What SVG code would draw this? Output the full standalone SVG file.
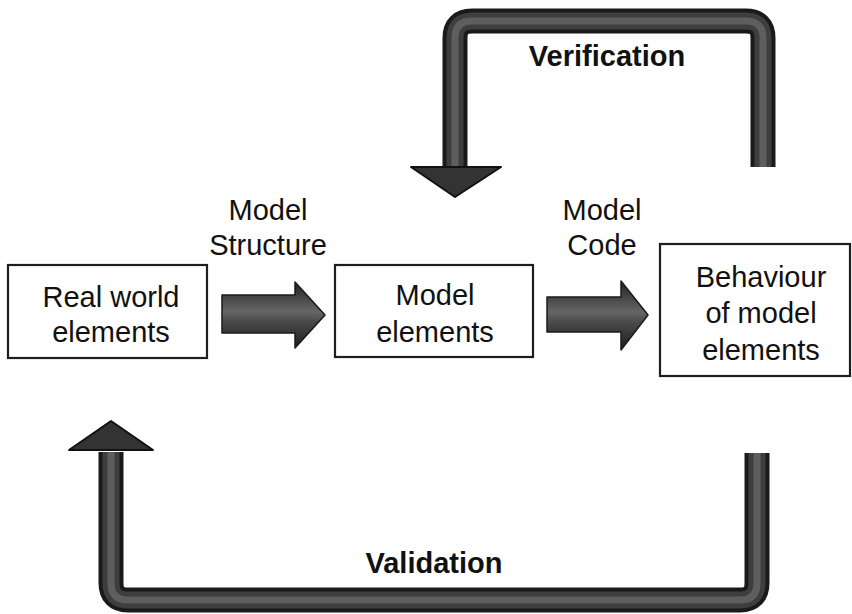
<svg xmlns="http://www.w3.org/2000/svg" width="852" height="614" viewBox="0 0 852 614">
<style>
.box{fill:#fff;stroke:#1e1e1e;stroke-width:2.2}
.t{font-family:"Liberation Sans",Arial,sans-serif;font-size:29px;fill:#111;text-anchor:middle}
.b{font-weight:bold}
.o{fill:none;stroke:#1a1a1a;stroke-width:25;stroke-linejoin:round}
.m{fill:none;stroke:#3e3e3e;stroke-width:17;stroke-linejoin:round}
.h{fill:none;stroke:#5e5e5e;stroke-width:7;stroke-linejoin:round}
.blk{fill:url(#g);stroke:#1a1a1a;stroke-width:1.5;stroke-linejoin:round}
.head{fill:#333;stroke:#111;stroke-width:2;stroke-linejoin:round}
</style>
<defs>
<linearGradient id="g" x1="0" y1="0" x2="0" y2="1">
<stop offset="0" stop-color="#222"/>
<stop offset="0.45" stop-color="#666"/>
<stop offset="0.6" stop-color="#4a4a4a"/>
<stop offset="1" stop-color="#1e1e1e"/>
</linearGradient>
</defs>
<rect width="852" height="614" fill="#fff"/>
<g id="connectors">
<g id="verification">
<path class="o" d="M455,168 V38 Q455,21 472,21 H746 Q763,21 763,38 V167"/>
<path class="m" d="M455,168 V38 Q455,21 472,21 H746 Q763,21 763,38 V167"/>
<path class="h" d="M455,168 V38 Q455,21 472,21 H746 Q763,21 763,38 V167"/>
<polygon class="head" points="411,167 501,167 455,197"/>
<text class="t b" x="607" y="66">Verification</text>
</g>
<g id="validation">
<path class="o" d="M111,452 V583 Q111,600 128,600 H740 Q757,600 757,583 V453"/>
<path class="m" d="M111,452 V583 Q111,600 128,600 H740 Q757,600 757,583 V453"/>
<path class="h" d="M111,452 V583 Q111,600 128,600 H740 Q757,600 757,583 V453"/>
<polygon class="head" points="69,450 153,450 111,421"/>
<text class="t b" x="434" y="573">Validation</text>
</g>
<g id="structure">
<polygon class="blk" points="222,295 295,295 295,282 325,315 295,348 295,333 222,333"/>
<text class="t" x="268" y="220">Model</text>
<text class="t" x="268" y="255">Structure</text>
</g>
<g id="code">
<polygon class="blk" points="547,297 621,297 621,281 648,315 621,350 621,332 547,332"/>
<text class="t" x="602" y="220">Model</text>
<text class="t" x="602" y="255">Code</text>
</g>
</g>
<g id="real">
<rect class="box" x="8" y="265" width="199" height="93"/>
<text class="t" x="111" y="307">Real world</text>
<text class="t" x="111" y="342">elements</text>
</g>
<g id="model">
<rect class="box" x="335" y="265" width="198" height="92"/>
<text class="t" x="435" y="305">Model</text>
<text class="t" x="435" y="342">elements</text>
</g>
<g id="behaviour">
<rect class="box" x="660" y="244" width="190" height="132"/>
<text class="t" x="761" y="287">Behaviour</text>
<text class="t" x="761" y="323">of model</text>
<text class="t" x="761" y="360">elements</text>
</g>
</svg>
